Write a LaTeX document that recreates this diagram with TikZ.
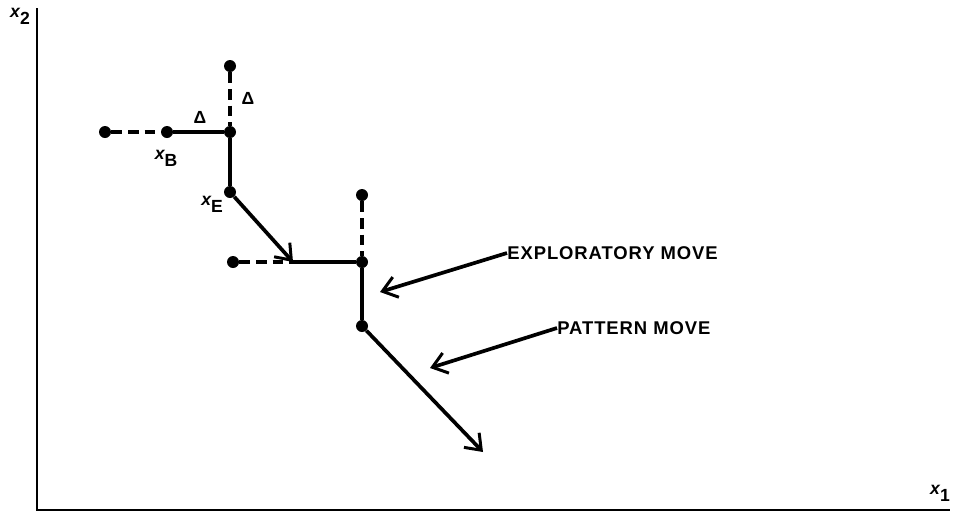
\documentclass[tikz,border=0pt]{standalone}
\usepackage{fontspec}
\setmainfont{Liberation Sans}
\setsansfont{Liberation Sans}
\usetikzlibrary{arrows.meta}
\newcommand{\varsub}[1]{{\bfseries\itshape x}\raisebox{-4pt}{\bfseries #1}}
\begin{document}
\begin{tikzpicture}[x=0.02cm,y=-0.02cm,
  axis/.style={line width=1.4pt},
  solidmove/.style={line width=2.1pt},
  dashmove/.style={line width=2.1pt, dash pattern=on 6pt off 3.5pt},
  dot/.style={circle, fill=black, inner sep=0pt, minimum size=0.24cm},
  barb/.style={-{Straight Barb[length=8pt,width=12pt,line width=1.7pt]}},
  lbl/.style={font=\fontsize{10.5}{12}\selectfont\bfseries\addfontfeatures{LetterSpace=5}, inner sep=0pt, anchor=west},
  sym/.style={font=\fontsize{10}{12}\selectfont, inner sep=0pt}]
\useasboundingbox (0,0) rectangle (956,518);

% axes
\coordinate (o) at (37,510);
\coordinate (ytop) at (37,8);
\coordinate (xend) at (950,510);
\draw[axis] (ytop) -- (o) -- (xend);
\node[sym] (x2) at (20,16) {\varsub{2}};
\node[sym] (x1) at (940,493) {\varsub{1}};

% first exploratory move about x_B
\node[dot] (a0) at (105,132) {};
\node[dot] (xb) at (167,132) {};
\node[dot] (a1) at (230,132) {};
\node[dot] (a2) at (230,66) {};
\node[dot] (xe) at (230,192) {};
\draw[dashmove] (a0) -- (xb);
\draw[solidmove] (xb) -- (a1) -- (xe);
\draw[dashmove] (a2) -- (a1);
\node[sym] (d1) at (200,117) {\bfseries Δ};
\node[sym] (d2) at (248,98) {\bfseries Δ};
\node[sym] (lxb) at (166,158) {\varsub{B}};
\node[sym] (lxe) at (212,204) {\varsub{E}};

% pattern move and second exploration
\coordinate (p1) at (293,262);
\draw[solidmove, barb] (xe) -- (p1);
\node[dot] (b0) at (233,262) {};
\node[dot] (b1) at (362,262) {};
\node[dot] (b2) at (362,195) {};
\node[dot] (b3) at (362,326) {};
\draw[dashmove] (b0) -- (p1);
\draw[solidmove] (p1) -- (b1) -- (b3);
\draw[dashmove] (b2) -- (b1);
\coordinate (p2) at (483,452);
\draw[solidmove, barb] (b3) -- (p2);

% labels
\node[lbl] (expl) at (507,253) {EXPLORATORY MOVE};
\coordinate (t1) at (380,292);
\draw[solidmove, barb] (expl.west) -- (t1);
\node[lbl] (patt) at (557,328) {PATTERN MOVE};
\coordinate (t2) at (430,368);
\draw[solidmove, barb] (patt.west) -- (t2);
\end{tikzpicture}
\end{document}
